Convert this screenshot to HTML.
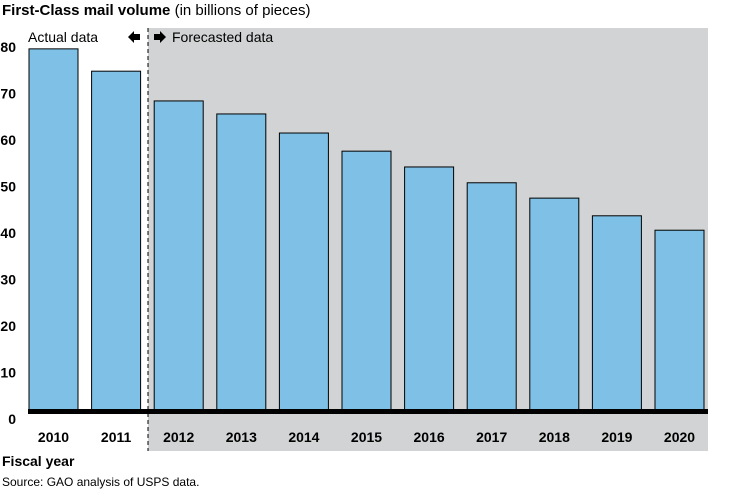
<!DOCTYPE html>
<html><head><meta charset="utf-8"><style>
body{margin:0;background:#fff;font-family:"Liberation Sans",Arial,sans-serif}
svg text{font-family:"Liberation Sans",Arial,sans-serif}
</style></head><body>
<svg id="chart" width="749" height="491" viewBox="0 0 749 491" xmlns="http://www.w3.org/2000/svg">
<rect x="148" y="28" width="560" height="423" fill="#d1d3d4"/>
<line x1="148" y1="28" x2="148" y2="451" stroke="#000" stroke-width="1" stroke-dasharray="4,3"/>
<text x="2" y="15" font-size="15"><tspan font-weight="bold">First-Class mail volume</tspan> (in billions of pieces)</text>
<text x="28" y="42" font-size="14">Actual data</text>
<polygon points="128,37 134,31 134,34 140,34 140,40 134,40 134,43" fill="#000"/>
<polygon points="166,37 160,31 160,34 154,34 154,40 160,40 160,43" fill="#000"/>
<text x="172" y="42" font-size="14">Forecasted data</text>
<g id="bars"></g>
<g id="yticks"></g>
<g id="xticks"></g>
<rect x="28" y="409" width="680" height="5" fill="#000"/>
<text x="2" y="466" font-size="14" font-weight="bold">Fiscal year</text>
<text x="2" y="486" font-size="12">Source: GAO analysis of USPS data.</text>
</svg>
<script>
const categories=["2010","2011","2012","2013","2014","2015","2016","2017","2018","2019","2020"];
const volumes=[79.6,74.8,68.4,65.6,61.5,57.6,54.2,50.8,47.5,43.7,40.6];
const yTickValues=[0,10,20,30,40,50,60,70,80];
const NS="http://www.w3.org/2000/svg";
function y(v){return 419-v*4.65;}
function x(i){return 29+i*62.6;}
const bw=49;
const bars=document.getElementById('bars'),xt=document.getElementById('xticks'),yt=document.getElementById('yticks');
categories.forEach((c,i)=>{
  const r=document.createElementNS(NS,'rect');
  r.setAttribute('x',x(i));r.setAttribute('y',y(volumes[i]));
  r.setAttribute('width',bw);r.setAttribute('height',411-y(volumes[i]));
  r.setAttribute('fill','#7fc1e6');r.setAttribute('stroke','#000');r.setAttribute('stroke-width','1');
  
  
  bars.appendChild(r);
  const t=document.createElementNS(NS,'text');
  t.setAttribute('x',x(i)+bw/2);t.setAttribute('y',442);t.setAttribute('text-anchor','middle');
  t.setAttribute('font-size','14');t.setAttribute('font-weight','bold');t.textContent=c;
  
  
  xt.appendChild(t);
});
yTickValues.forEach(v=>{
  const t=document.createElementNS(NS,'text');
  t.setAttribute('x',16);t.setAttribute('y',y(v)+5);t.setAttribute('text-anchor','end');
  t.setAttribute('font-size','14');t.setAttribute('font-weight','bold');t.textContent=v;
  
  
  yt.appendChild(t);
});
</script>
</body></html>
